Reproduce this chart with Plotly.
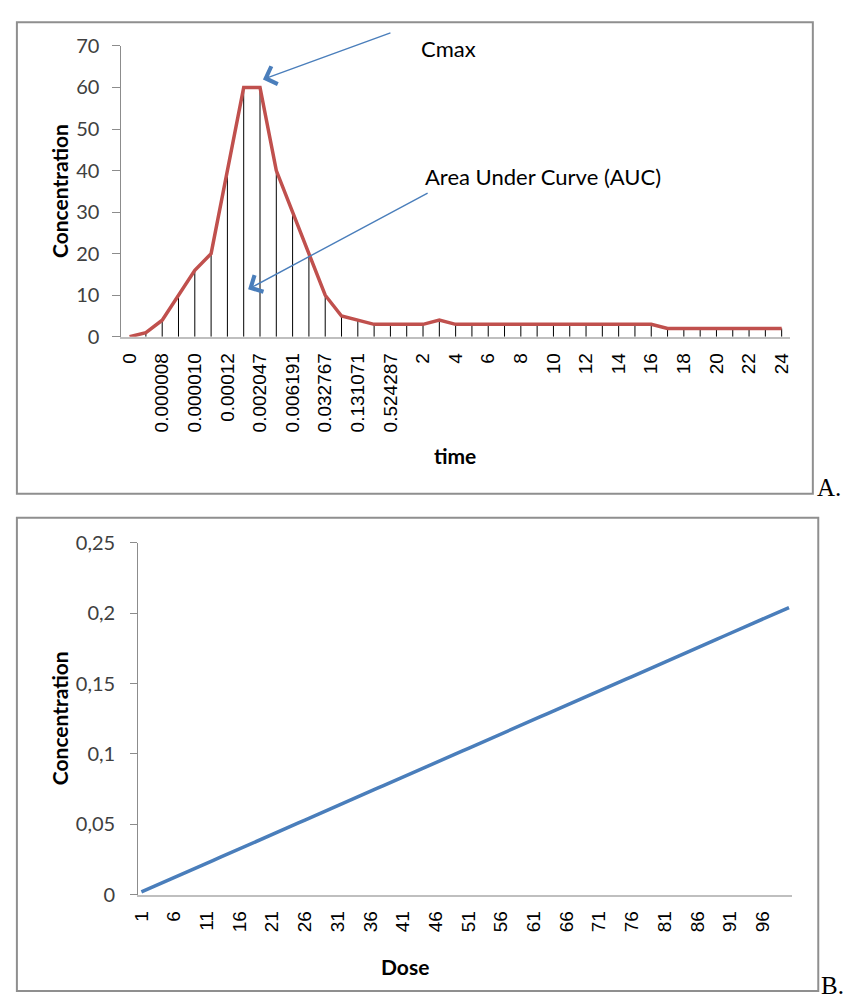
import plotly.graph_objects as go

W, H = 843, 1007


def fx(x):
    return x / W


def fy(y):
    return 1 - y / H


# ---------------- data ----------------
# Chart A: concentration-time profile (41 sampling points, every other one labelled)
time_tick_labels = ['0', '0.000008', '0.000010', '0.00012', '0.002047', '0.006191',
                    '0.032767', '0.131071', '0.524287', '2', '4', '6', '8', '10',
                    '12', '14', '16', '18', '20', '22', '24']
time_concentration = [0, 1, 4, 10, 16, 20, 40, 60, 60, 40, 30, 20, 10, 5, 4,
                      3, 3, 3, 3, 4, 3, 3, 3, 3, 3, 3, 3, 3, 3, 3, 3, 3, 3,
                      2, 2, 2, 2, 2, 2, 2, 2]

# Chart B: concentration vs dose (doses 1..100)
dose_values = list(range(1, 101))
dose_concentration = [
    0.0020, 0.0041, 0.0061, 0.0082, 0.0102, 0.0122, 0.0143, 0.0163, 0.0184, 0.0204,
    0.0224, 0.0245, 0.0265, 0.0286, 0.0306, 0.0326, 0.0347, 0.0367, 0.0388, 0.0408,
    0.0428, 0.0449, 0.0469, 0.0490, 0.0510, 0.0530, 0.0551, 0.0571, 0.0592, 0.0612,
    0.0632, 0.0653, 0.0673, 0.0694, 0.0714, 0.0734, 0.0755, 0.0775, 0.0796, 0.0816,
    0.0836, 0.0857, 0.0877, 0.0898, 0.0918, 0.0938, 0.0959, 0.0979, 0.1000, 0.1020,
    0.1040, 0.1061, 0.1081, 0.1102, 0.1122, 0.1142, 0.1163, 0.1183, 0.1204, 0.1224,
    0.1244, 0.1265, 0.1285, 0.1306, 0.1326, 0.1346, 0.1367, 0.1387, 0.1408, 0.1428,
    0.1448, 0.1469, 0.1489, 0.1510, 0.1530, 0.1550, 0.1571, 0.1591, 0.1612, 0.1632,
    0.1652, 0.1673, 0.1693, 0.1714, 0.1734, 0.1754, 0.1775, 0.1795, 0.1816, 0.1836,
    0.1856, 0.1877, 0.1897, 0.1918, 0.1938, 0.1958, 0.1979, 0.1999, 0.2020, 0.2040,
]
dose_tick_values = [1, 6, 11, 16, 21, 26, 31, 36, 41, 46, 51, 56, 61, 66, 71, 76, 81, 86, 91, 96]

# ---------------- figure ----------------
fig = go.Figure()

fig.add_trace(go.Scatter(
    x=list(range(len(time_concentration))),
    y=time_concentration,
    mode='lines',
    line=dict(color='#C0504D', width=3.5),
    error_y=dict(type='percent', symmetric=False, value=0, valueminus=100,
                 color='black', thickness=1, width=0),
    xaxis='x', yaxis='y', showlegend=False, hoverinfo='x+y',
))

fig.add_trace(go.Scatter(
    x=dose_values,
    y=dose_concentration,
    mode='lines',
    line=dict(color='#4A7EBB', width=3.5),
    xaxis='x2', yaxis='y2', showlegend=False,
))

tick_font_num = dict(family='Lato, sans-serif', size=20, color='#404040')
tick_font_cat = dict(family='Liberation Sans, Arial, sans-serif', size=19, color='#000000')

fig.update_layout(
    width=W, height=H,
    margin=dict(l=0, r=0, t=0, b=0),
    paper_bgcolor='white', plot_bgcolor='white',
    separators=',.',
    xaxis=dict(
        domain=[fx(114.8), fx(791.2)], range=[-0.5, len(time_concentration) - 0.5],
        tickmode='array', tickvals=list(range(0, len(time_concentration), 2)),
        ticktext=time_tick_labels, tickangle=-90,
        showline=True, linecolor='#BFBFBF', linewidth=1.5,
        ticks='', showgrid=False, zeroline=False,
        tickfont=tick_font_cat, ticklabelstandoff=7, anchor='y',
    ),
    yaxis=dict(
        domain=[fy(331.7), fy(33.7)], range=[0, 70], dtick=10, tick0=0,
        showline=True, linecolor='#8C8C8C', linewidth=1,
        ticks='outside', ticklen=8, tickcolor='#8C8C8C',
        showgrid=False, zeroline=False,
        tickfont=tick_font_num, ticklabelstandoff=9, anchor='x',
    ),
    xaxis2=dict(
        domain=[fx(131.7), fx(793.7)], range=[0.5, 100.5],
        tickmode='array', tickvals=dose_tick_values,
        ticktext=[str(v) for v in dose_tick_values], tickangle=-90,
        showline=True, linecolor='#BFBFBF', linewidth=1.5,
        ticks='', showgrid=False, zeroline=False,
        tickfont=tick_font_cat, ticklabelstandoff=7, anchor='y2',
    ),
    yaxis2=dict(
        domain=[fy(903.3), fy(542.7)], range=[0, 0.25], dtick=0.05, tick0=0,
        showline=True, linecolor='#8C8C8C', linewidth=1,
        ticks='outside', ticklen=7, tickcolor='#8C8C8C',
        showgrid=False, zeroline=False,
        tickfont=tick_font_num, ticklabelstandoff=11, anchor='x2',
    ),
)

border = dict(color='#8F8F8F', width=2)
fig.add_shape(type='rect', xref='paper', yref='paper',
              x0=fx(9), x1=fx(814.5), y0=fy(492.5), y1=fy(9.5), line=border)
fig.add_shape(type='rect', xref='paper', yref='paper',
              x0=fx(9), x1=fx(820), y0=fy(1002), y1=fy(517), line=border)

title_font = dict(family='Lato, sans-serif', size=21, color='#000000')
ann_font = dict(family='Lato, sans-serif', size=22, color='#000000')
mark_font = dict(family='Liberation Serif, Times New Roman, serif', size=25, color='#000000')

annotations = [
    dict(text='<b>Concentration</b>', x=fx(52), y=fy(182), textangle=-90, font=title_font),
    dict(text='<b>time</b>', x=fx(452), y=fy(453), font=title_font),
    dict(text='<b>Concentration</b>', x=fx(52), y=fy(722), textangle=-90, font=title_font),
    dict(text='<b>Dose</b>', x=fx(402), y=fy(977), font=title_font),
    dict(text='Cmax', x=fx(416), y=fy(36), xanchor='left', font=ann_font),
    dict(text='Area Under Curve (AUC)', x=fx(420), y=fy(167), xanchor='left', font=ann_font),
    dict(text='A.', x=fx(817), y=fy(486), xanchor='left', font=mark_font),
    dict(text='B.', x=fx(820.5), y=fy(996), xanchor='left', font=mark_font),
]
for a in annotations:
    a.update(xref='paper', yref='paper', showarrow=False)
    if 'xanchor' not in a:
        a['xanchor'] = 'center'
    a['yanchor'] = 'middle'

arrow_color = '#4A7EBB'
arrows = [
    ((258, 68), (387, 21)),
    ((243, 283), (424, 186)),
]
for (hx, hy), (tx, ty) in arrows:
    annotations.append(dict(
        text='', xref='paper', yref='paper', x=fx(hx), y=fy(hy),
        ax=tx - hx, ay=ty - hy, axref='pixel', ayref='pixel',
        showarrow=True, arrowhead=4, arrowsize=2.6, arrowwidth=1.4,
        arrowcolor=arrow_color,
    ))

fig.update_layout(annotations=annotations)

fig.write_html('out.html')
